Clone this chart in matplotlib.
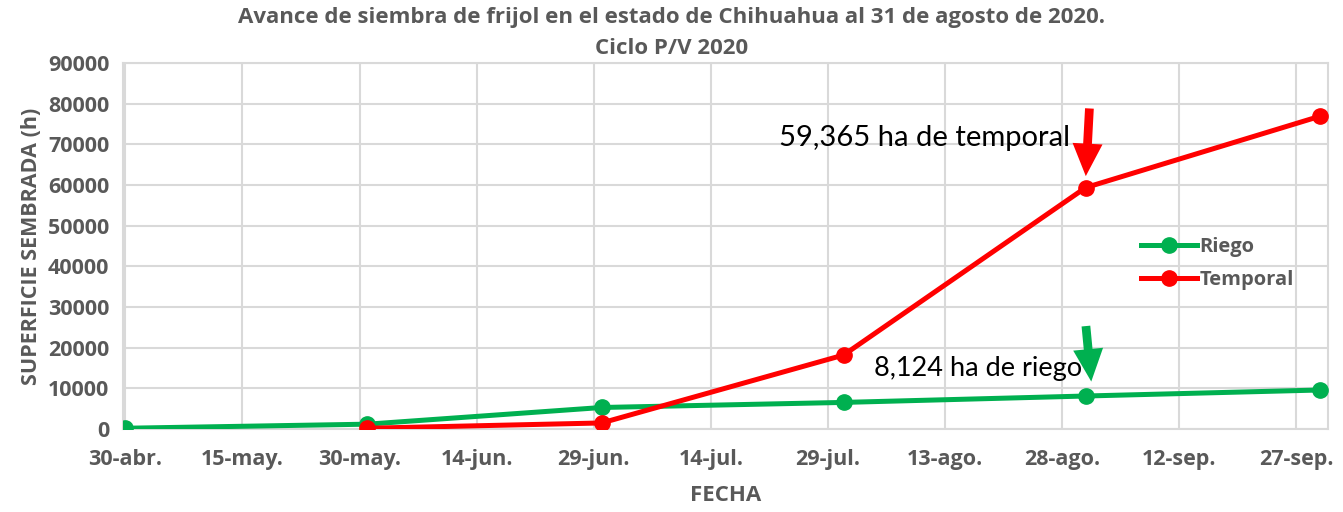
import matplotlib
matplotlib.use('Agg')
import matplotlib.pyplot as plt
from datetime import datetime, timedelta

plt.rcParams['font.family'] = ['Open Sans', 'DejaVu Sans']

# datos
fechas_riego = ['2020-04-30', '2020-05-31', '2020-06-30', '2020-07-31', '2020-08-31', '2020-09-30']
riego = [200, 1200, 5300, 6550, 8124, 9600]
fechas_temporal = ['2020-05-31', '2020-06-30', '2020-07-31', '2020-08-31', '2020-09-30']
temporal = [200, 1500, 18200, 59365, 76900]

tick_fechas = ['2020-04-30', '2020-05-15', '2020-05-30', '2020-06-14', '2020-06-29', '2020-07-14',
               '2020-07-29', '2020-08-13', '2020-08-28', '2020-09-12', '2020-09-27']
tick_labels = ['30-abr.', '15-may.', '30-may.', '14-jun.', '29-jun.', '14-jul.',
               '29-jul.', '13-ago.', '28-ago.', '12-sep.', '27-sep.']
y_ticks = [0, 10000, 20000, 30000, 40000, 50000, 60000, 70000, 80000, 90000]

GRIS = '#595959'
VERDE = '#00B050'
ROJO = '#FF0000'


def to_dt(lst):
    return [datetime.strptime(s, '%Y-%m-%d') for s in lst]


fig = plt.figure(figsize=(13.43, 5.12), dpi=100)
ax = fig.add_axes([0.0916, 0.162, 0.897, 0.715])

xr = to_dt(fechas_riego)
xt = to_dt(fechas_temporal)
ax.plot(xr, riego, color=VERDE, lw=3.6, marker='o', ms=11, label='Riego', zorder=3)
ax.plot(xt, temporal, color=ROJO, lw=3.6, marker='o', ms=11, label='Temporal', zorder=3)

ax.set_xlim(datetime(2020, 4, 30) - timedelta(days=0.3), datetime(2020, 10, 1))
ax.set_ylim(0, 90000)
ax.set_xticks(to_dt(tick_fechas))
ax.set_xticklabels(tick_labels)
ax.set_yticks(y_ticks)
ax.tick_params(axis='both', length=0, labelsize=15.5, colors=GRIS, pad=8)
for lab in ax.get_xticklabels() + ax.get_yticklabels():
    lab.set_fontweight('bold')
ax.tick_params(axis='x', pad=14)
ax.tick_params(axis='y', pad=10)

ax.grid(True, color='#D9D9D9', lw=1.5)
ax.set_axisbelow(True)
for sp in ax.spines.values():
    sp.set_color('#D9D9D9')
    sp.set_linewidth(1.5)

ax.set_xlabel('FECHA', fontsize=16, fontweight='bold', color=GRIS, labelpad=11)
ax.set_ylabel('SUPERFICIE SEMBRADA (h)', fontsize=15.5, fontweight='bold', color=GRIS, labelpad=4)
fig.text(0.5, 0.966, 'Avance de siembra de frijol en el estado de Chihuahua al 31 de agosto de 2020.',
         ha='center', va='center', fontsize=16, fontweight='bold', color=GRIS)
fig.text(0.5, 0.906, 'Ciclo P/V 2020',
         ha='center', va='center', fontsize=16, fontweight='bold', color=GRIS)

# anotaciones con flechas
flecha = 'simple,head_width=1.2,head_length=1.3,tail_width=0.35'
ax.annotate('', xy=(datetime(2020, 8, 31), 61500), xytext=(datetime(2020, 8, 31, 12), 79500),
            arrowprops=dict(arrowstyle=flecha, color=ROJO, lw=0, mutation_scale=18))
ax.text(datetime(2020, 8, 29), 71500, '59,365 ha de temporal', ha='right', va='center',
        fontsize=21, color='black', family=['Lato', 'DejaVu Sans'])
ax.annotate('', xy=(datetime(2020, 8, 31, 18), 11000), xytext=(datetime(2020, 8, 31), 26000),
            arrowprops=dict(arrowstyle=flecha, color=VERDE, lw=0, mutation_scale=18))
ax.text(datetime(2020, 8, 30, 12), 15000, '8,124 ha de riego', ha='right', va='center',
        fontsize=19.5, color='black', family=['Lato', 'DejaVu Sans'])

leg = ax.legend(loc='upper left', bbox_to_anchor=(0.83, 0.575), frameon=False,
                handlelength=2.8, handletextpad=0.1, labelspacing=0.65,
                prop={'size': 14.5, 'weight': 'bold'})
for t in leg.get_texts():
    t.set_color(GRIS)

fig.savefig('out.png', dpi=100)
